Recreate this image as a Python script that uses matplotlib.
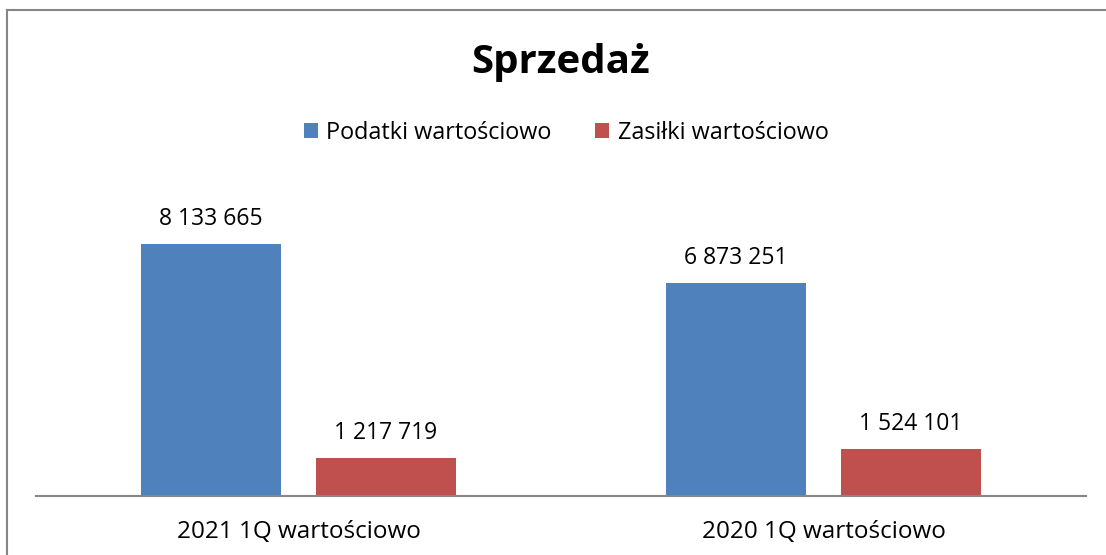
import matplotlib.pyplot as plt
from matplotlib.lines import Line2D
import numpy as np

categories = ['2021 1Q wartościowo', '2020 1Q wartościowo']
podatki = [8133665, 6873251]
zasilki = [1217719, 1524101]
series_names = ['Podatki wartościowo', 'Zasiłki wartościowo']
colors = ['#4F81BD', '#C0504D']

plt.rcParams['font.family'] = ['Open Sans', 'DejaVu Sans']

W, H = 1106, 555
fig = plt.figure(figsize=(W / 100, H / 100), dpi=100)
ax = fig.add_axes([36 / W, (H - 496) / H, 1050 / W, 310 / H])

x = np.arange(len(categories))
width = 0.2667
off = 0.1667
for vals, name, col, d in [(podatki, series_names[0], colors[0], -off),
                           (zasilki, series_names[1], colors[1], off)]:
    bars = ax.bar(x + d, vals, width, color=col, label=name)
    for b, v in zip(bars, vals):
        label = f'{v:,}'.replace(',', ' ')
        ax.annotate(label, (b.get_x() + b.get_width() / 2, v),
                    xytext=(0, 9.5), textcoords='offset points',
                    ha='center', va='bottom', fontsize=16.5)

ax.set_xlim(-0.5, 1.5)
ax.set_ylim(0, 1e7)
ax.set_xticks(x)
ax.set_xticklabels(categories, fontsize=17.5)
ax.tick_params(axis='x', length=0, pad=17)
ax.set_yticks([])
for s in ['top', 'right', 'left']:
    ax.spines[s].set_visible(False)
ax.spines['bottom'].set_color('#868686')
ax.spines['bottom'].set_linewidth(1.5)

fig.text(561 / W, 1 - 63 / H, 'Sprzedaż', ha='center', va='center',
         fontsize=29, fontweight='bold')

fig.legend(loc='center', bbox_to_anchor=(566 / W, 1 - 133 / H), ncol=2,
           frameon=False, fontsize=16.8, handlelength=0.6, handleheight=0.6,
           handletextpad=0.35, columnspacing=1.9)

# chart frame (left and top edges visible)
fig.add_artist(Line2D([6.5 / W, 6.5 / W], [0, 1 - 10 / H], color='#868686', lw=1.5))
fig.add_artist(Line2D([6.5 / W, 1], [1 - 10 / H, 1 - 10 / H], color='#868686', lw=1.5))

fig.savefig('out.png', dpi=100)
